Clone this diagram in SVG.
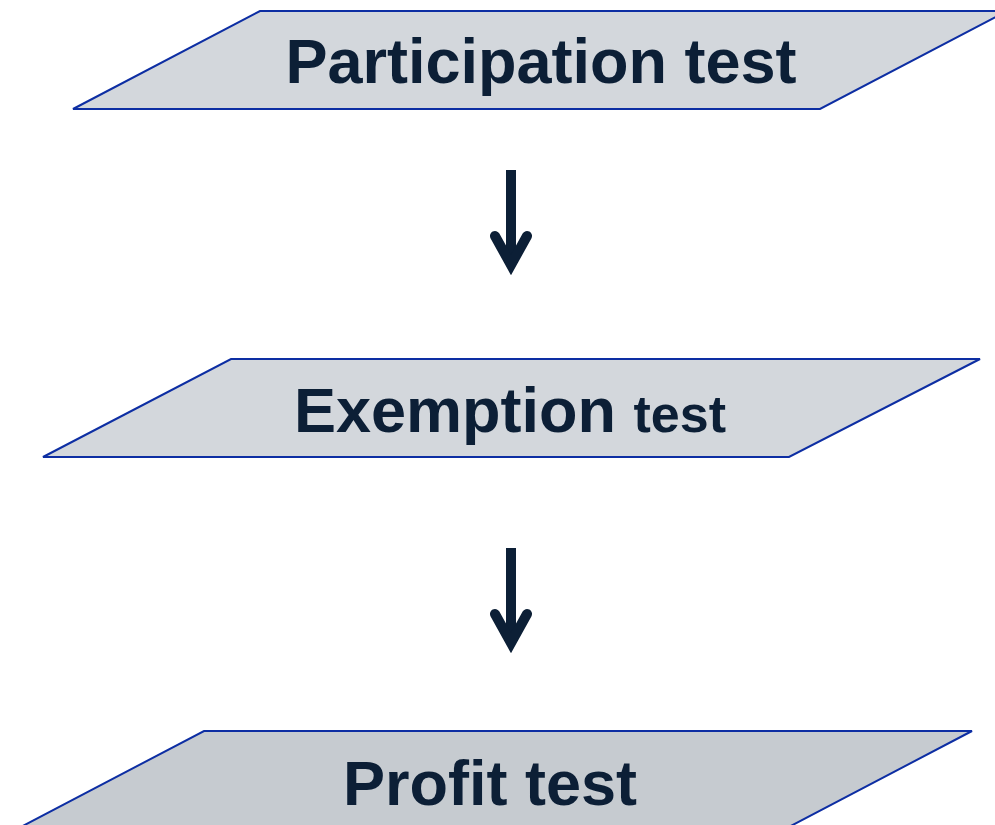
<svg xmlns="http://www.w3.org/2000/svg" width="995" height="825" viewBox="0 0 995 825">
  <style>
    .box { fill: #d3d7dc; stroke: #0d2ea3; stroke-width: 2; }
    .box.dark { fill: #c6cbd0; }
    .label { font-family: "Liberation Sans", Arial, sans-serif; font-weight: bold; fill: #0c1f36; text-anchor: middle; }
    .shaft { stroke: #0c1f36; stroke-width: 10; fill: none; }
    .head { stroke: #0c1f36; stroke-width: 10; fill: none; stroke-linecap: round; stroke-linejoin: miter; stroke-miterlimit: 6; }
  </style>
  <rect width="995" height="825" fill="#ffffff"/>

  <g id="participation">
    <polygon class="box" points="260,11 1007,11 820,109 73,109"/>
    <text class="label" x="541" y="83" font-size="63">Participation test</text>
  </g>

  <g id="exemption">
    <polygon class="box" points="231,359 980,359 789,457 43,457"/>
    <text class="label" x="510" y="432" font-size="63">Exemption <tspan font-size="52">test</tspan></text>
  </g>

  <g id="profit">
    <polygon class="box dark" points="204,731 972,731 785,829 17,829"/>
    <text class="label" x="490" y="805" font-size="63">Profit test</text>
  </g>

  <g id="connectors">
    <line class="shaft" x1="511" y1="170" x2="511" y2="262"/>
    <polyline class="head" points="495,236 511,265 527,236"/>
    <line class="shaft" x1="511" y1="548" x2="511" y2="640"/>
    <polyline class="head" points="495,614 511,643 527,614"/>
  </g>
</svg>
